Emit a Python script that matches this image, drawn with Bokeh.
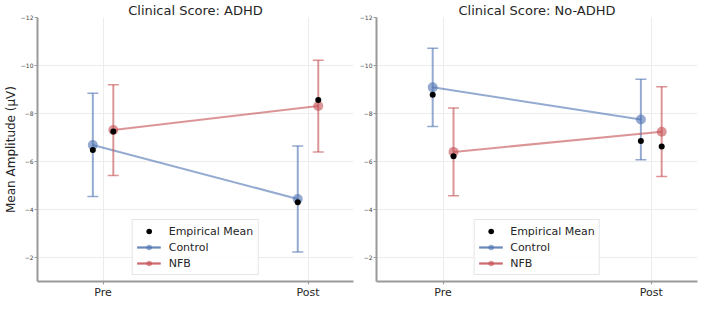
import numpy as np
from bokeh.plotting import figure
from bokeh.layouts import row
from bokeh.models import (Range1d, FixedTicker, ColumnDataSource, Legend, LegendItem,
                          CustomJSTickFormatter)
from bokeh.transform import dodge
from bokeh.embed import file_html
from bokeh.resources import INLINE

# ---------------- data ----------------
phases = ["Pre", "Post"]
phase_pos = [0, 1]
y_ticks = [-12, -10, -8, -6, -4, -2]

adhd_control_mean = [-6.69, -4.44]
adhd_control_err = [2.15, 2.21]
adhd_nfb_mean = [-7.31, -8.31]
adhd_nfb_err = [1.89, 1.91]
adhd_control_emp = [-6.48, -4.30]
adhd_nfb_emp = [-7.25, -8.56]

noadhd_control_mean = [-9.09, -7.75]
noadhd_control_err = [1.63, 1.68]
noadhd_nfb_mean = [-6.40, -7.24]
noadhd_nfb_err = [1.83, 1.87]
noadhd_control_emp = [-8.78, -6.85]
noadhd_nfb_emp = [-6.22, -6.62]

# ---------------- style ----------------
FONT = "DejaVu Sans"
BLUE = "#4c72b0"
RED = "#c44e52"
ALPHA = 0.6
SPINE = "#9a9a9a"
TEXT = "#262626"
H = 301


def panel(title, ctrl_m, ctrl_e, nfb_m, nfb_e, ctrl_emp, nfb_emp, width, ylabel, mbl):
    p = figure(width=width, height=H, output_backend="svg", toolbar_location=None,
               x_range=Range1d(-0.32, 1.222), y_range=Range1d(-1, -12), title=title,
               min_border_left=mbl, min_border_right=3, min_border_top=0, min_border_bottom=0)
    p.outline_line_color = None
    p.background_fill_color = "white"
    p.title.text_font = FONT
    p.title.text_font_size = "13px"
    p.title.text_font_style = "normal"
    p.title.text_color = TEXT
    p.title.align = "center"
    p.title.standoff = 0

    # axes
    p.xaxis.ticker = FixedTicker(ticks=phase_pos)
    p.xaxis.formatter = CustomJSTickFormatter(args=dict(labels=phases),
                                              code="return labels[Math.round(tick)] || '';")
    p.yaxis.ticker = FixedTicker(ticks=y_ticks)
    p.yaxis.formatter = CustomJSTickFormatter(
        code="return tick < 0 ? '\u2212' + Math.abs(tick) : String(tick);")
    for ax in (p.xaxis, p.yaxis):
        ax.axis_line_color = SPINE
        ax.axis_line_width = 2
        ax.major_tick_line_color = SPINE
        ax.major_tick_out = 3
        ax.major_tick_in = 0
        ax.minor_tick_line_color = None
        ax.major_label_text_font = FONT
        ax.major_label_text_color = TEXT
        ax.major_label_standoff = 1
    p.xaxis.major_label_text_font_size = "11px"
    p.yaxis.major_label_text_font_size = "6px"
    p.yaxis.major_label_text_color = "#444444"
    if ylabel:
        p.yaxis.axis_label = ylabel
        p.yaxis.axis_label_text_font = FONT
        p.yaxis.axis_label_text_font_size = "12px"
        p.yaxis.axis_label_text_font_style = "normal"
        p.yaxis.axis_label_text_color = TEXT
        p.yaxis.axis_label_standoff = 0
    p.grid.grid_line_color = "#ececec"
    p.grid.grid_line_width = 1

    items = {}
    emp_renderer = None
    for m, e, emp, color, off, name in [
        (ctrl_m, ctrl_e, ctrl_emp, BLUE, -0.05, "Control"),
        (nfb_m, nfb_e, nfb_emp, RED, 0.05, "NFB"),
    ]:
        m_arr = np.array(m)
        e_arr = np.array(e)
        src = ColumnDataSource(dict(x=phase_pos, m=m, lo=list(m_arr - e_arr),
                                    hi=list(m_arr + e_arr), emp=emp))
        xd = dodge("x", off)
        seg = p.segment(x0=xd, y0="lo", x1=xd, y1="hi", source=src,
                        line_color=color, line_alpha=ALPHA, line_width=2)
        for col in ("lo", "hi"):
            p.scatter(x=xd, y=col, source=src, marker="dash", size=11,
                      line_color=color, line_alpha=ALPHA, line_width=1.5)
        ln = p.line(x=xd, y="m", source=src, line_color=color, line_alpha=ALPHA, line_width=2)
        mk = p.scatter(x=xd, y="m", source=src, size=10, fill_color=color,
                       fill_alpha=ALPHA, line_color=None)
        items[name] = [seg, ln, mk]
        r = p.scatter(x=dodge("x", off), y="emp", source=src, size=6,
                      fill_color="black", line_color=None, level="overlay")
        if emp_renderer is None:
            emp_renderer = r

    legend = Legend(items=[
        LegendItem(label="Empirical Mean", renderers=[emp_renderer]),
        LegendItem(label="Control", renderers=items["Control"]),
        LegendItem(label="NFB", renderers=items["NFB"]),
    ], location="bottom_center")
    legend.label_text_font = FONT
    legend.label_text_font_size = "11px"
    legend.label_text_color = TEXT
    legend.glyph_width = 24
    legend.glyph_height = 14
    legend.label_height = 14
    legend.label_standoff = 8
    legend.spacing = 2
    legend.padding = 4
    legend.margin = 6
    legend.border_line_color = "#cccccc"
    legend.border_line_width = 1
    legend.background_fill_alpha = 0.85
    p.add_layout(legend)
    return p


p1 = panel("Clinical Score: ADHD", adhd_control_mean, adhd_control_err, adhd_nfb_mean,
           adhd_nfb_err, adhd_control_emp, adhd_nfb_emp, 356, "Mean Amplitude (μV)", 0)
p2 = panel("Clinical Score: No-ADHD", noadhd_control_mean, noadhd_control_err, noadhd_nfb_mean,
           noadhd_nfb_err, noadhd_control_emp, noadhd_nfb_emp, 344, None, 20)

layout = row(p1, p2)
open("out.html", "w").write(file_html(layout, INLINE))
